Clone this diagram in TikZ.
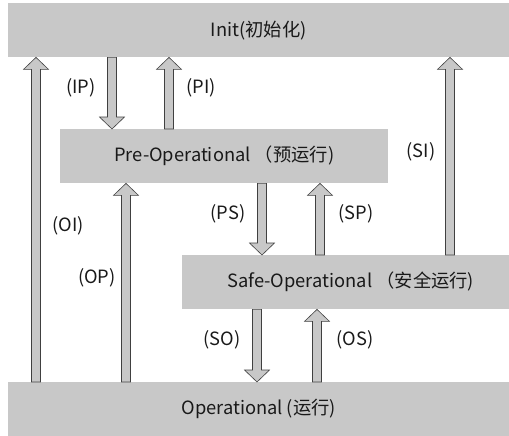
\documentclass[tikz,border=0pt]{standalone}
\usepackage{fontspec}
\setmainfont{Noto Sans CJK SC}
\usetikzlibrary{calc}
\definecolor{boxgray}{HTML}{C8C8C8}
\definecolor{edgegray}{HTML}{404040}
\tikzset{
  state/.style={fill=boxgray, draw=none, inner sep=0pt, font=\fontsize{18.3}{22}\selectfont, text=black!90},
  lbl/.style={font=\fontsize{18.3}{22}\selectfont, text=black!90},
  arr/.style={fill=boxgray, draw=edgegray, line width=0.6pt, line join=miter}
}
\newcommand\uparr[2]{\draw[arr] let \p1=(#1),\p2=(#2) in
  (\x1-4.5pt,\y1) -- (\x1-4.5pt,\y2-12pt) -- (\x1-12.5pt,\y2-12pt) -- (\x1,\y2) --
  (\x1+12.5pt,\y2-12pt) -- (\x1+4.5pt,\y2-12pt) -- (\x1+4.5pt,\y1) -- cycle;}
\newcommand\downarr[2]{\draw[arr] let \p1=(#1),\p2=(#2) in
  (\x1-4.5pt,\y1) -- (\x1-4.5pt,\y2+12pt) -- (\x1-12.5pt,\y2+12pt) -- (\x1,\y2) --
  (\x1+12.5pt,\y2+12pt) -- (\x1+4.5pt,\y2+12pt) -- (\x1+4.5pt,\y1) -- cycle;}
\begin{document}
\begin{tikzpicture}[x=1pt,y=-1pt]
\useasboundingbox (0,0) rectangle (509,436);
% states
\node[state, minimum width=501pt, minimum height=54pt, anchor=north west] (init) at (8,3) {Init(初始化)};
\node[state, minimum width=328pt, minimum height=54pt, anchor=north west] (pre) at (60,129) {Pre-Operational （预运行)};
\node[state, minimum width=327pt, minimum height=54pt, anchor=north west] (safe) at (182,255) {\hspace*{10pt}Safe-Operational （安全运行)};
\node[state, minimum width=501pt, minimum height=54pt, anchor=north west] (op) at (8,382) {Operational (运行)};
% arrow x positions
\coordinate (xOI) at (36,0);
\coordinate (xIP) at (112,0);
\coordinate (xPI) at (169,0);
\coordinate (xOP) at (126,0);
\coordinate (xPS) at (262,0);
\coordinate (xSP) at (320,0);
\coordinate (xSI) at (450,0);
\coordinate (xSO) at (257,0);
\coordinate (xOS) at (317,0);
% arrows
\uparr{op.north -| xOI}{init.south -| xOI}
\downarr{init.south -| xIP}{pre.north -| xIP}
\uparr{pre.north -| xPI}{init.south -| xPI}
\uparr{op.north -| xOP}{pre.south -| xOP}
\downarr{pre.south -| xPS}{safe.north -| xPS}
\uparr{safe.north -| xSP}{pre.south -| xSP}
\uparr{safe.north -| xSI}{init.south -| xSI}
\downarr{safe.south -| xSO}{op.north -| xSO}
\uparr{op.north -| xOS}{safe.south -| xOS}
% labels
\node[lbl] (lIP) at (81,88) {(IP)};
\node[lbl] (lPI) at (201,88) {(PI)};
\node[lbl] (lSI) at (421,152) {(SI)};
\node[lbl] (lOI) at (68,226) {(OI)};
\node[lbl] (lOP) at (97,278) {(OP)};
\node[lbl] (lPS) at (228,214) {(PS)};
\node[lbl] (lSP) at (356,214) {(SP)};
\node[lbl] (lSO) at (222,340) {(SO)};
\node[lbl] (lOS) at (355,340) {(OS)};
\end{tikzpicture}
\end{document}
